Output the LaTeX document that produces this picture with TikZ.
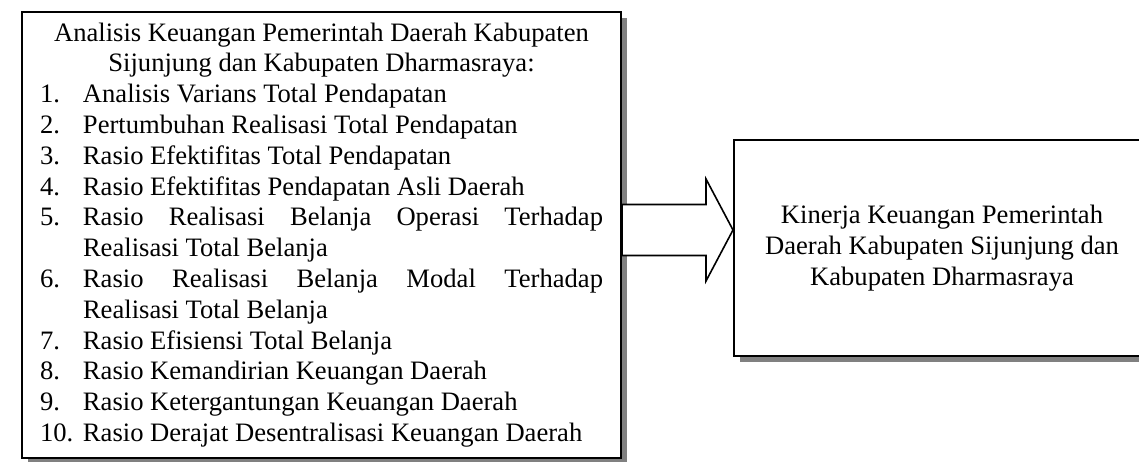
\documentclass[tikz,border=0pt]{standalone}
\usepackage{fontspec}
\setmainfont{Liberation Serif}
\usetikzlibrary{positioning,calc,shadows}
\newcommand{\itm}[1]{\par\hangindent=21.5pt\hangafter=1\noindent\makebox[21.5pt][l]{#1}}

\begin{document}
\begin{tikzpicture}[x=0.5pt, y=-0.5pt,
  panel/.style={draw, line width=1pt, fill=white, inner sep=0pt,
                font=\fontsize{13.3pt}{15.4pt}\selectfont,
                drop shadow={shadow xshift=3pt, shadow yshift=-3pt, fill=black!50, opacity=1}},
  blockarrow/.style={draw, line width=0.8pt, fill=white, line join=miter}]
\useasboundingbox (0,0) rectangle (1139,461);
\node[panel, minimum width=299.5pt, minimum height=223pt, text width=281.5pt, align=justify] (anl) at (321.5,235) {%
  \parindent=0pt\tolerance=10000\hyphenpenalty=10000
  {\centering Analisis Keuangan Pemerintah Daerah Kabupaten\\ Sijunjung dan Kabupaten Dharmasraya:\par}
  \itm{1.}Analisis Varians Total Pendapatan
  \itm{2.}Pertumbuhan Realisasi Total Pendapatan
  \itm{3.}Rasio Efektifitas Total Pendapatan
  \itm{4.}Rasio Efektifitas Pendapatan Asli Daerah
  \itm{5.}Rasio Realisasi Belanja Operasi Terhadap Realisasi Total Belanja
  \itm{6.}Rasio Realisasi Belanja Modal Terhadap Realisasi Total Belanja
  \itm{7.}Rasio Efisiensi Total Belanja
  \itm{8.}Rasio Kemandirian Keuangan Daerah
  \itm{9.}Rasio Ketergantungan Keuangan Daerah
  \itm{10.}Rasio Derajat Desentralisasi Keuangan Daerah};
\node[panel, minimum width=208pt, minimum height=108pt, align=center] (kin) at (942,248)
  {Kinerja Keuangan Pemerintah\\Daerah Kabupaten Sijunjung dan\\Kabupaten Dharmasraya};
\coordinate (as) at ($(anl.east)+(0,-5)$);
\coordinate (at) at (kin.west |- as);
\draw[blockarrow] ($(as)+(0,-25.5)$) -- ($(at)+(-27,-25.5)$) -- ($(at)+(-27,-51)$) -- (at)
  -- ($(at)+(-27,51)$) -- ($(at)+(-27,25.5)$) -- ($(as)+(0,25.5)$) -- cycle;
\end{tikzpicture}
\end{document}
